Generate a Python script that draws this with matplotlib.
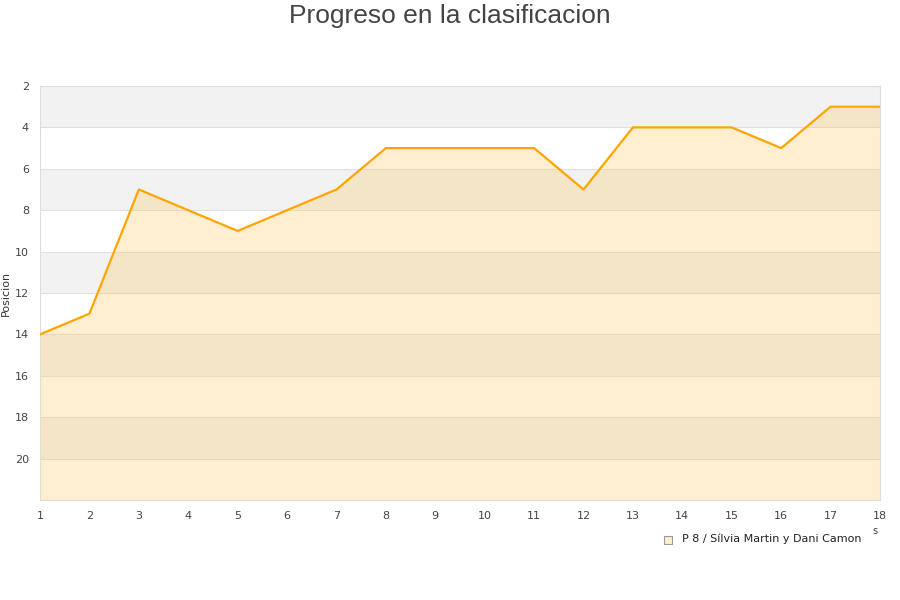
import matplotlib.pyplot as plt

jornadas = list(range(1, 19))
posicion = [14, 13, 7, 8, 9, 8, 7, 5, 5, 5, 5, 7, 4, 4, 4, 5, 3, 3]
y_ticks = [2, 4, 6, 8, 10, 12, 14, 16, 18, 20]
equipo = "P 8 / Sílvia Martin y Dani Camon"

fig = plt.figure(figsize=(9, 6), dpi=100)
ax = fig.add_axes([40 / 900, 100 / 600, 840 / 900, 414 / 600])

# alternating grey bands
for lo in range(2, 22, 4):
    ax.axhspan(lo, lo + 2, color="#f2f2f2", zorder=0, lw=0)
for t in y_ticks:
    ax.axhline(t, color="#e0e0e0", lw=0.8, zorder=1)

ax.fill_between(jornadas, posicion, 22, color="#ffc966", alpha=0.3, lw=0, zorder=2)
ax.plot(jornadas, posicion, color="#ffa500", lw=1.6, zorder=3)

ax.set_xlim(1, 18)
ax.set_ylim(22, 2)
ax.set_xticks(jornadas)
ax.set_yticks(y_ticks)
ax.tick_params(length=0, labelsize=8, colors="#444444", pad=8)
for s in ax.spines.values():
    s.set_color("#dddddd")
ax.set_ylabel("Posicion", fontsize=8, color="#333333")
ax.yaxis.set_label_coords(-29 / 840, 0.5)

fig.text(0.5, 1 - 16 / 600, "Progreso en la clasificacion", ha="center", va="center",
         fontsize=19, color="#444444", family="Liberation Sans")
fig.text(875 / 900, 1 - 531 / 600, "s", ha="center", va="center", fontsize=7, color="#444444")

fig.patches.append(plt.Rectangle((664 / 900, 1 - 544 / 600), 8 / 900, 8 / 600,
                                 transform=fig.transFigure, facecolor="#ffeecc",
                                 edgecolor="#999999", lw=0.8))
fig.text(682 / 900, 1 - 539 / 600, equipo, ha="left", va="center", fontsize=8, color="#222222")

fig.savefig("out.png")
